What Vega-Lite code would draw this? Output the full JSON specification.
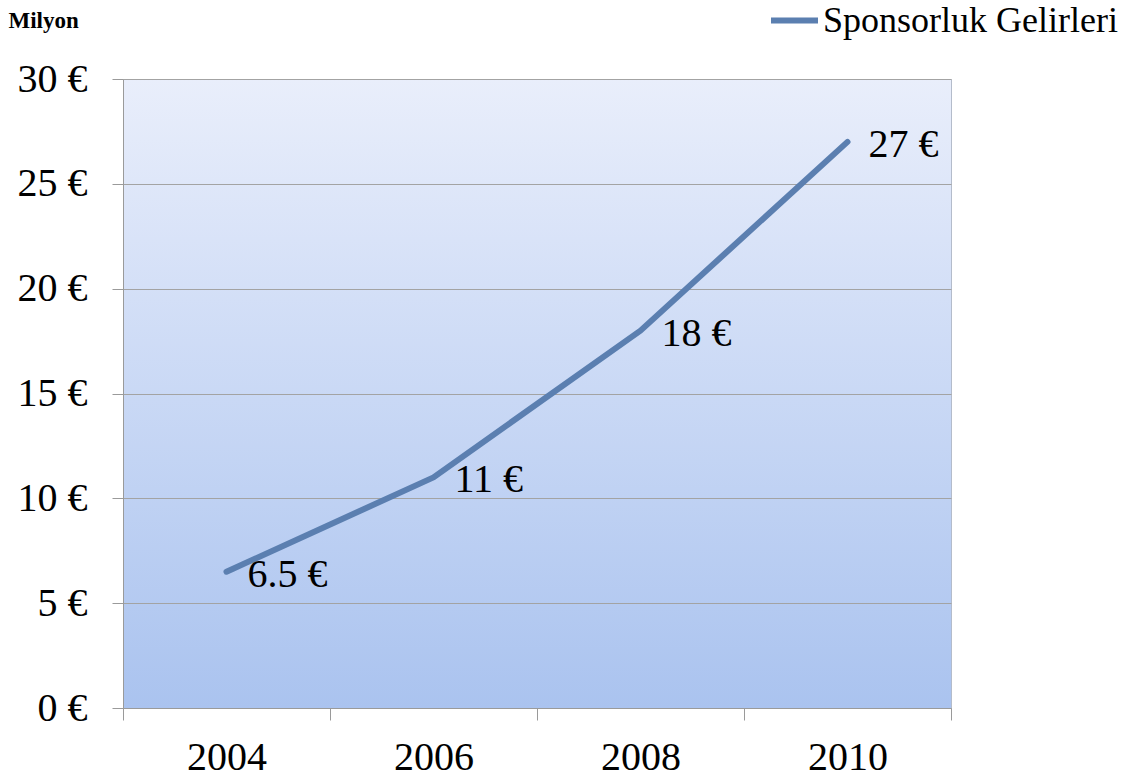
{
  "$schema": "https://vega.github.io/schema/vega-lite/v6.json",
  "width": 828,
  "height": 629,
  "autosize": {"type": "none"},
  "padding": {"left": 123, "top": 79, "right": 185, "bottom": 70},
  "background": "white",
  "config": {
    "font": "Liberation Serif",
    "view": {
      "stroke": "#b4bccb",
      "strokeWidth": 1,
      "fill": {
        "gradient": "linear",
        "x1": 0, "y1": 0, "x2": 0, "y2": 1,
        "stops": [
          {"offset": 0, "color": "#e9eefb"},
          {"offset": 1, "color": "#aac3ef"}
        ]
      }
    },
    "axis": {
      "domainColor": "#9a9a9a",
      "tickColor": "#9a9a9a",
      "gridColor": "#a3a3a3",
      "labelFont": "Liberation Serif",
      "labelColor": "#000000",
      "labelFontSize": 40
    }
  },
  "data": {
    "values": [
      {"year": "2004", "value": 6.5},
      {"year": "2006", "value": 11},
      {"year": "2008", "value": 18},
      {"year": "2010", "value": 27}
    ]
  },
  "encoding": {
    "x": {
      "field": "year",
      "type": "ordinal",
      "bandPosition": 0.5,
      "scale": {"type": "band", "paddingInner": 0, "paddingOuter": 0},
      "axis": {
        "title": null,
        "labelAngle": 0,
        "tickBand": "extent",
        "tickSize": 12,
        "labelPadding": 17,
        "grid": false
      }
    },
    "y": {
      "field": "value",
      "type": "quantitative",
      "scale": {"domain": [0, 30], "nice": false},
      "axis": {
        "values": [0, 5, 10, 15, 20, 25, 30],
        "labelExpr": "datum.value + ' €'",
        "tickSize": 11,
        "labelPadding": 25,
        "title": "Milyon",
        "titleAngle": 0,
        "titleFont": "Liberation Serif",
        "titleFontSize": 23,
        "titleFontWeight": "bold",
        "titleAlign": "left",
        "titleBaseline": "middle",
        "titleX": -115,
        "titleY": -59
      }
    }
  },
  "layer": [
    {
      "mark": {"type": "line", "strokeWidth": 6, "strokeCap": "round", "strokeJoin": "round"},
      "encoding": {
        "color": {
          "datum": "Sponsorluk Gelirleri",
          "type": "nominal",
          "scale": {"range": ["#5b7fb0"]},
          "legend": {
            "title": null,
            "orient": "none",
            "legendX": 645,
            "legendY": -85,
            "symbolType": "stroke",
            "symbolSize": 2209,
            "symbolStrokeWidth": 6,
            "labelFont": "Liberation Serif",
            "labelFontSize": 36,
            "labelColor": "#000000",
            "labelOffset": 2,
            "labelLimit": 400
          }
        }
      }
    },
    {
      "transform": [{"calculate": "datum.value + ' €'", "as": "label"}],
      "mark": {"type": "text", "align": "left", "baseline": "middle", "dx": 21, "dy": 3, "fontSize": 40, "font": "Liberation Serif", "color": "#000000"},
      "encoding": {"text": {"field": "label"}}
    }
  ]
}
